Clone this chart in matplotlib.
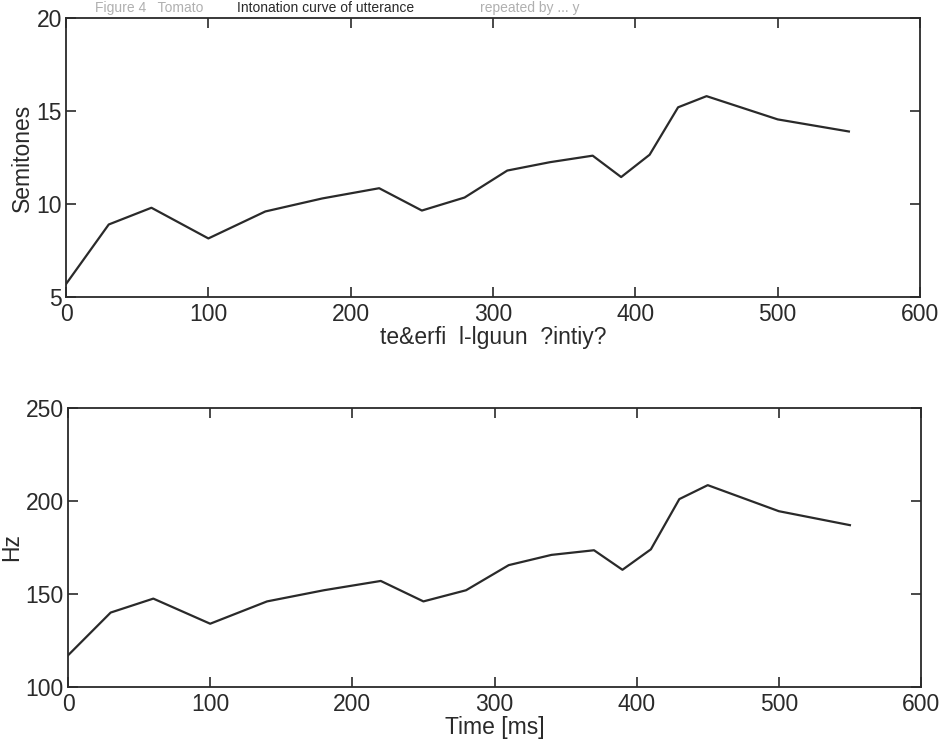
import matplotlib
matplotlib.use("Agg")
import matplotlib.pyplot as plt

plt.rcParams['font.family'] = ['Liberation Sans', 'DejaVu Sans']

time_ms = [0, 30, 60, 100, 140, 180, 220, 250, 280, 310, 340, 370, 390, 410, 430, 450, 500, 550]
semitones = [5.7, 8.9, 9.8, 8.15, 9.6, 10.3, 10.85, 9.65, 10.35, 11.8, 12.25, 12.6, 11.45, 12.65, 15.2, 15.8, 14.55, 13.9]
hz = [117, 140, 147.5, 134, 146, 152, 157, 146, 152, 165.5, 171, 173.5, 163, 174, 201, 208.5, 194.5, 187]

top_xlabel = "te&erfi  l-lguun  ?intiy?"
bottom_xlabel = "Time [ms]"
top_ylabel = "Semitones"
bottom_ylabel = "Hz"
caption_a = "Figure 4   Tomato"
caption_b = "Intonation curve of utterance"
caption_c = "repeated by ... y"

ink = '#2a2a2a'
fs = 16.5

fig = plt.figure(figsize=(9.42, 7.45), dpi=100)
ax1 = fig.add_axes([0.0701, 0.6013, 0.9066, 0.3745])
ax2 = fig.add_axes([0.0722, 0.0779, 0.9055, 0.3745])

for ax, y, ylab, xlab, ylim, yt in [
    (ax1, semitones, top_ylabel, top_xlabel, (5, 20), [5, 10, 15, 20]),
    (ax2, hz, bottom_ylabel, bottom_xlabel, (100, 250), [100, 150, 200, 250]),
]:
    ax.plot(time_ms, y, color=ink, lw=1.6)
    ax.set_xlim(0, 600)
    ax.set_ylim(*ylim)
    ax.set_xticks([0, 100, 200, 300, 400, 500, 600])
    ax.set_yticks(yt)
    ax.tick_params(direction='in', top=True, right=True, length=7, width=1.2,
                   labelsize=fs, colors=ink)
    ax.tick_params(axis='x', pad=4)
    ax.tick_params(axis='y', pad=3)
    for s in ax.spines.values():
        s.set_color(ink)
        s.set_linewidth(1.3)
    ax.set_xlabel(xlab, fontsize=fs, color=ink, labelpad=0)
    ax.set_ylabel(ylab, fontsize=fs, color=ink, labelpad=2)

# caption at the very top of the scan (partly cut off in the original)
ytop = 1 - 1 / 745
fig.text(95 / 942, ytop, caption_a, fontsize=10, color='#b0b0b0', va='top')
fig.text(237 / 942, ytop, caption_b, fontsize=10, color=ink, va='top')
fig.text(480 / 942, ytop, caption_c, fontsize=10, color='#b0b0b0', va='top')

fig.savefig("out.png", dpi=100)
